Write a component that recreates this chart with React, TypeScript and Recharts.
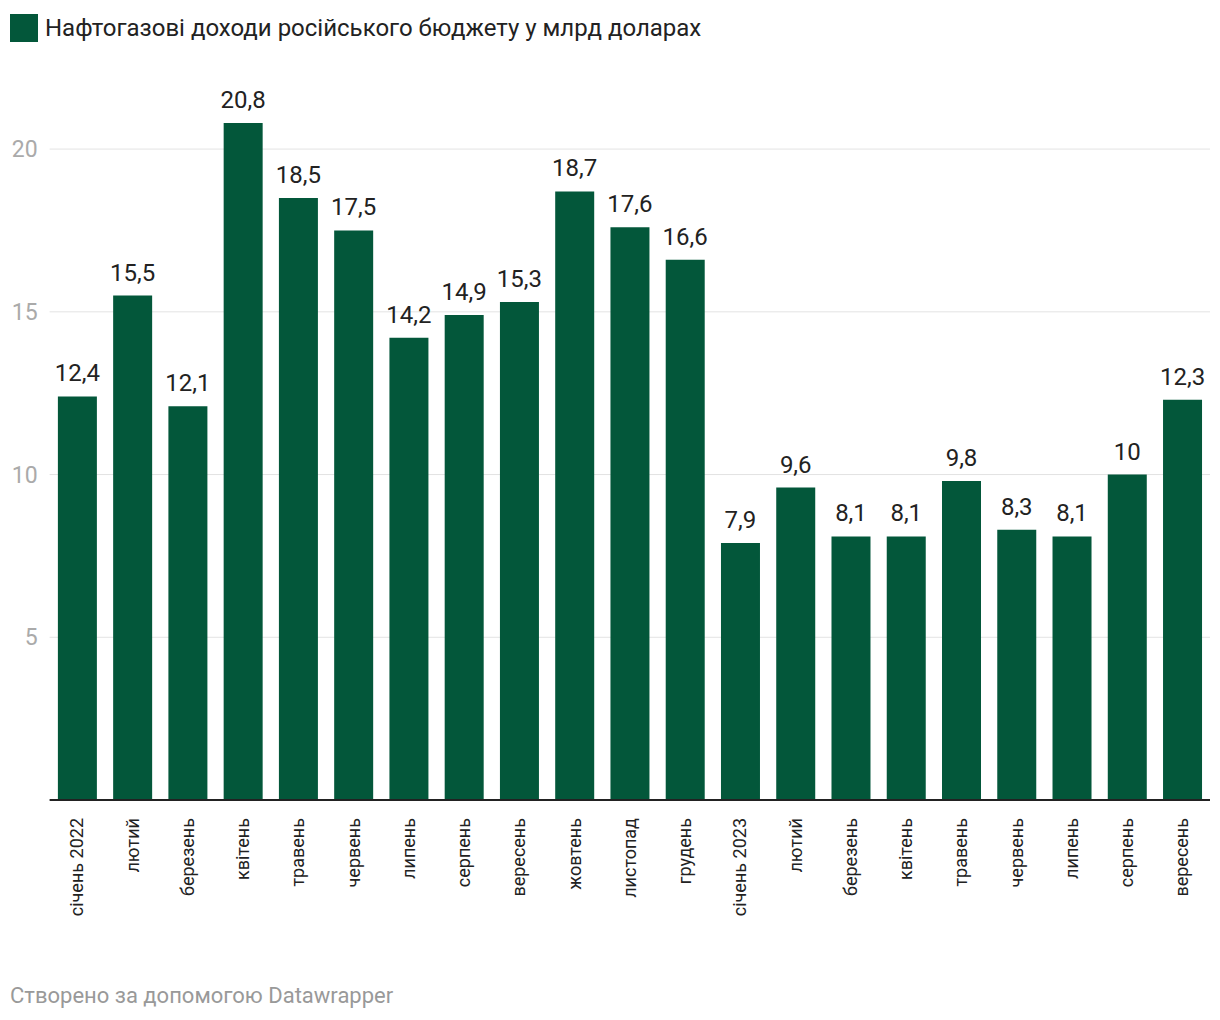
import React from "react";
import { BarChart, Bar, XAxis, YAxis, CartesianGrid, LabelList } from "recharts";

const months = [
  "січень 2022", "лютий", "березень", "квітень", "травень", "червень", "липень",
  "серпень", "вересень", "жовтень", "листопад", "грудень", "січень 2023", "лютий",
  "березень", "квітень", "травень", "червень", "липень", "серпень", "вересень",
];
const revenue = [
  12.4, 15.5, 12.1, 20.8, 18.5, 17.5, 14.2, 14.9, 15.3, 18.7, 17.6, 16.6,
  7.9, 9.6, 8.1, 8.1, 9.8, 8.3, 8.1, 10, 12.3,
];
const yTicks = [5, 10, 15, 20];

const seriesName = "Нафтогазові доходи російського бюджету у млрд доларах";
const GREEN = "#03573a";

const data = months.map((m, i) => ({ id: i, month: m, value: revenue[i] }));

const fmt = (v: any) => String(v).replace(".", ",");

const MonthTick = ({ x, y, payload }: any) => (
  <text
    x={0}
    y={0}
    transform={`translate(${x},${y}) rotate(-90)`}
    textAnchor="end"
    dy="0.34em"
    fontSize={18}
    fill="#222"
  >
    {months[payload.index] ?? payload.value}
  </text>
);

export default function App() {
  return (
    <div style={{ position: "relative", width: 1220, height: 1020, fontFamily: "Roboto, sans-serif", background: "#fff" }}>
      <style>{`body{margin:0}`}</style>

      <div style={{ position: "absolute", left: 10, top: 14, display: "flex", alignItems: "center" }}>
        <span style={{ width: 28, height: 28, background: GREEN, display: "inline-block" }} />
        <span style={{ marginLeft: 7, fontSize: 24, color: "#222", lineHeight: "28px" }}>
          {seriesName}
        </span>
      </div>

      <BarChart
        width={1220}
        height={1020}
        data={data}
        margin={{ top: 84, right: 10, bottom: 70, left: 0 }}
        barCategoryGap="15%"
      >
        <CartesianGrid vertical={false} stroke="#e3e3e3" horizontalValues={yTicks} />
        <YAxis
          domain={[0, 22]}
          ticks={yTicks}
          width={49.6}
          axisLine={false}
          tickLine={false}
          tickSize={0}
          tickMargin={12}
          tick={{ fill: "#aaa", fontSize: 23 }}
        />
        <XAxis
          dataKey="id"
          interval={0}
          height={150}
          tickLine={false}
          tickSize={0}
          tickMargin={18}
          axisLine={{ stroke: "#222", strokeWidth: 2 }}
          tick={<MonthTick />}
        />
        <Bar dataKey="value" fill={GREEN} isAnimationActive={false}>
          <LabelList dataKey="value" position="top" offset={15} formatter={fmt} fill="#222" fontSize={24} />
        </Bar>
      </BarChart>

      <div style={{ position: "absolute", left: 10, top: 983, fontSize: 22, color: "#999" }}>
        Створено за допомогою Datawrapper
      </div>
    </div>
  );
}
